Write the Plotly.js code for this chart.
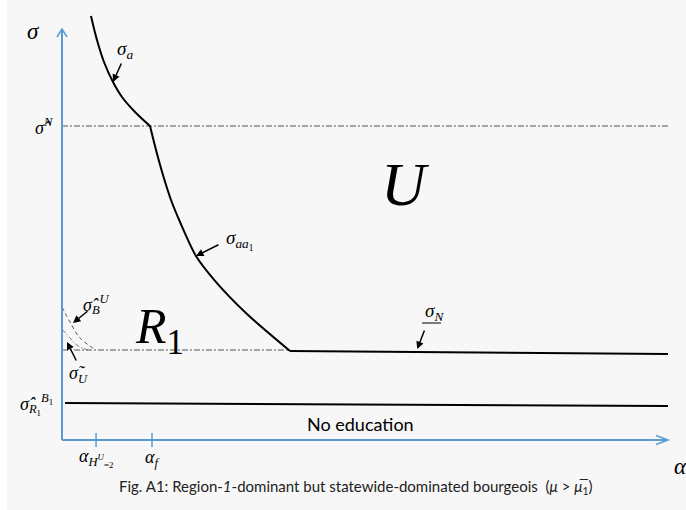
<!DOCTYPE html>
<html><head><meta charset="utf-8">
<script src="https://cdn.plot.ly/plotly-3.0.1.min.js"></script>
<style>
html,body{margin:0;padding:0;background:#ffffff;width:686px;height:510px;overflow:hidden}
#chart{position:absolute;left:7px;top:0;width:679px;height:510px}
</style></head>
<body><div id="chart"></div>
<script>
// schematic curves (x = alpha, y = sigma), arbitrary units
const sigmaA_x = [0.483, 0.583, 0.70, 0.85, 1.0, 1.217, 1.467];
const sigmaA_y = [10.6, 10.0, 9.45, 8.95, 8.575, 8.2, 7.85];
const sigmaAA1_x = [1.467, 1.567, 1.683, 1.817, 1.967, 2.233, 2.55, 3.083, 3.8];
const sigmaAA1_y = [7.85, 7.25, 6.625, 6.0, 5.45, 4.6, 3.98, 3.15, 2.225];
const sigmaN_x = [3.8, 10.1];
const sigmaN_y = [2.225, 2.15];
const R1level_x = [0, 3.8];
const R1level_y = [2.25, 2.25];
const sigmaHatN_x = [0, 10.1];
const sigmaHatN_y = [7.85, 7.85];
const sigmaB1_x = [0.05, 10.1];
const sigmaB1_y = [0.925, 0.85];
const sigmaBU_x = [0, 0.133, 0.30, 0.567];
const sigmaBU_y = [3.325, 2.95, 2.55, 2.25];
const sigmaU_x = [0, 0.133, 0.267, 0.433];
const sigmaU_y = [2.775, 2.55, 2.35, 2.25];
const axisEnd_x = 10.1;
const axisEnd_y = 10.275;
const tickVals = [0.567, 1.5];
const tickLabels = ['<i>α</i><sub><i>H</i><sup><i>U</i></sup><sub>=2</sub></sub>', '<i>α</i><sub><i>f</i></sub>'];

const blue = '#5b9bd5';
const serif = 'Liberation Serif, DejaVu Serif, serif';

const traces = [
  {x: sigmaHatN_x, y: sigmaHatN_y, mode: 'lines', line: {color: '#555', width: 1, dash: '6px,2px,2px,2px'}},
  {x: R1level_x, y: R1level_y, mode: 'lines', line: {color: '#555', width: 1, dash: '6px,2px,2px,2px'}},
  {x: sigmaBU_x, y: sigmaBU_y, mode: 'lines', line: {color: '#555', width: 1, dash: '4px,3px', shape: 'spline'}},
  {x: sigmaU_x, y: sigmaU_y, mode: 'lines', line: {color: '#777', width: 1, dash: '5px,2px,1px,2px', shape: 'spline'}},
  {x: sigmaA_x, y: sigmaA_y, mode: 'lines', line: {color: '#000', width: 2, shape: 'spline'}},
  {x: sigmaAA1_x, y: sigmaAA1_y, mode: 'lines', line: {color: '#000', width: 2, shape: 'spline', smoothing: 0.8}},
  {x: sigmaN_x, y: sigmaN_y, mode: 'lines', line: {color: '#000', width: 2}},
  {x: sigmaB1_x, y: sigmaB1_y, mode: 'lines', line: {color: '#000', width: 2}},
  {x: [0, 0], y: [0, axisEnd_y], mode: 'lines', line: {color: blue, width: 2}},
  {x: [0, axisEnd_x], y: [0, 0], mode: 'lines', line: {color: blue, width: 2}}
];

const shapes = [
  {type: 'path', xref: 'x', yref: 'y', xsizemode: 'pixel', ysizemode: 'pixel', xanchor: 0, yanchor: axisEnd_y,
   path: 'M -5 -8 L 0 0 L 5 -8', line: {color: blue, width: 1.5}},
  {type: 'path', xref: 'x', yref: 'y', xsizemode: 'pixel', ysizemode: 'pixel', xanchor: axisEnd_x, yanchor: 0,
   path: 'M -12 4.5 L 0 0 L -12 -4.5', line: {color: blue, width: 1.5}}
];
tickVals.forEach(v => shapes.push({type: 'path', xref: 'x', yref: 'y', xsizemode: 'pixel', ysizemode: 'pixel',
  xanchor: v, yanchor: 0, path: 'M 0 -7 L 0 7', line: {color: blue, width: 1.5}}));

function txt(x, y, t, size, extra) {
  return Object.assign({x: x, y: y, xref: 'x', yref: 'y', text: t, showarrow: false,
    font: {family: serif, size: size, color: '#000'}}, extra || {});
}
function arr(x, y, ax, ay) {
  return {x: x, y: y, ax: ax, ay: ay, xref: 'x', yref: 'y', axref: 'x', ayref: 'y', text: '',
    showarrow: true, arrowhead: 2, arrowsize: 1, arrowwidth: 1.5, arrowcolor: '#000'};
}

const annotations = [
  txt(-0.483, 10.225, '<i>σ</i>', 23),
  txt(-0.30, 7.85, '<i>σ̂</i><sup><i>N</i></sup>', 18),
  txt(1.05, 9.75, '<i>σ</i><sub><i>a</i></sub>', 19),
  arr(0.85, 8.95, 1.0, 9.45),
  txt(2.97, 5.0, '<i>σ</i><sub><i>aa</i><sub>1</sub></sub>', 19),
  arr(2.233, 4.6, 2.633, 4.9),
  txt(6.2, 3.2, '<i>σ</i><sub><i>N</i></sub>', 19),
  {x: 6.0, y: 2.925, ax: 6.34, ay: 2.925, xref: 'x', yref: 'y', axref: 'x', ayref: 'y', text: '', showarrow: true,
   arrowhead: 0, arrowwidth: 1, arrowcolor: '#000'},
  arr(5.92, 2.275, 6.05, 2.775),
  txt(5.72, 6.4, '<i>U</i>', 62),
  txt(1.62, 2.75, '<i>R</i><sub>1</sub>', 50),
  txt(0.58, 3.4, '<i>σ̂</i><sub><i>B</i></sub><sup><i>U</i></sup>', 18),
  arr(0.183, 2.925, 0.45, 3.25),
  txt(0.27, 1.65, '<i>σ̃</i><sub><i>U</i></sub>', 18),
  arr(0.083, 2.45, 0.25, 1.95),
  txt(-0.42, 0.9, '<i>σ̂</i><sub><i>R</i><sub>1</sub></sub><sup><i>B</i><sub>1</sub></sup>', 18),
  txt(tickVals[0], -0.45, tickLabels[0], 18),
  txt(tickVals[1], -0.45, tickLabels[1], 18),
  txt(10.3, -0.65, '<i>α</i>', 23),
  txt(4.97, 0.4, 'No education', 18, {font: {family: 'Lato, Open Sans, sans-serif', size: 18, color: '#000'}}),
  txt(4.9, -1.175, 'Fig. A1: Region-<i>1</i>-dominant but statewide-dominated bourgeois  (<i>μ</i> > <i>μ̅</i><sub>1</sub>)', 15,
   {font: {family: 'Lato, Open Sans, sans-serif', size: 15, color: '#222'}})
];

const layout = {
  width: 679, height: 510,
  margin: {l: 0, r: 0, t: 0, b: 0},
  paper_bgcolor: '#f7f7f7', plot_bgcolor: '#f7f7f7',
  showlegend: false,
  xaxis: {range: [-55/60, 624/60], showgrid: false, zeroline: false, showticklabels: false, showline: false, ticks: ''},
  yaxis: {range: [-1.75, 11], showgrid: false, zeroline: false, showticklabels: false, showline: false, ticks: ''},
  shapes: shapes,
  annotations: annotations
};
traces.forEach(t => { t.hoverinfo = 'skip'; });
Plotly.newPlot('chart', traces, layout, {staticPlot: true});
</script></body></html>
